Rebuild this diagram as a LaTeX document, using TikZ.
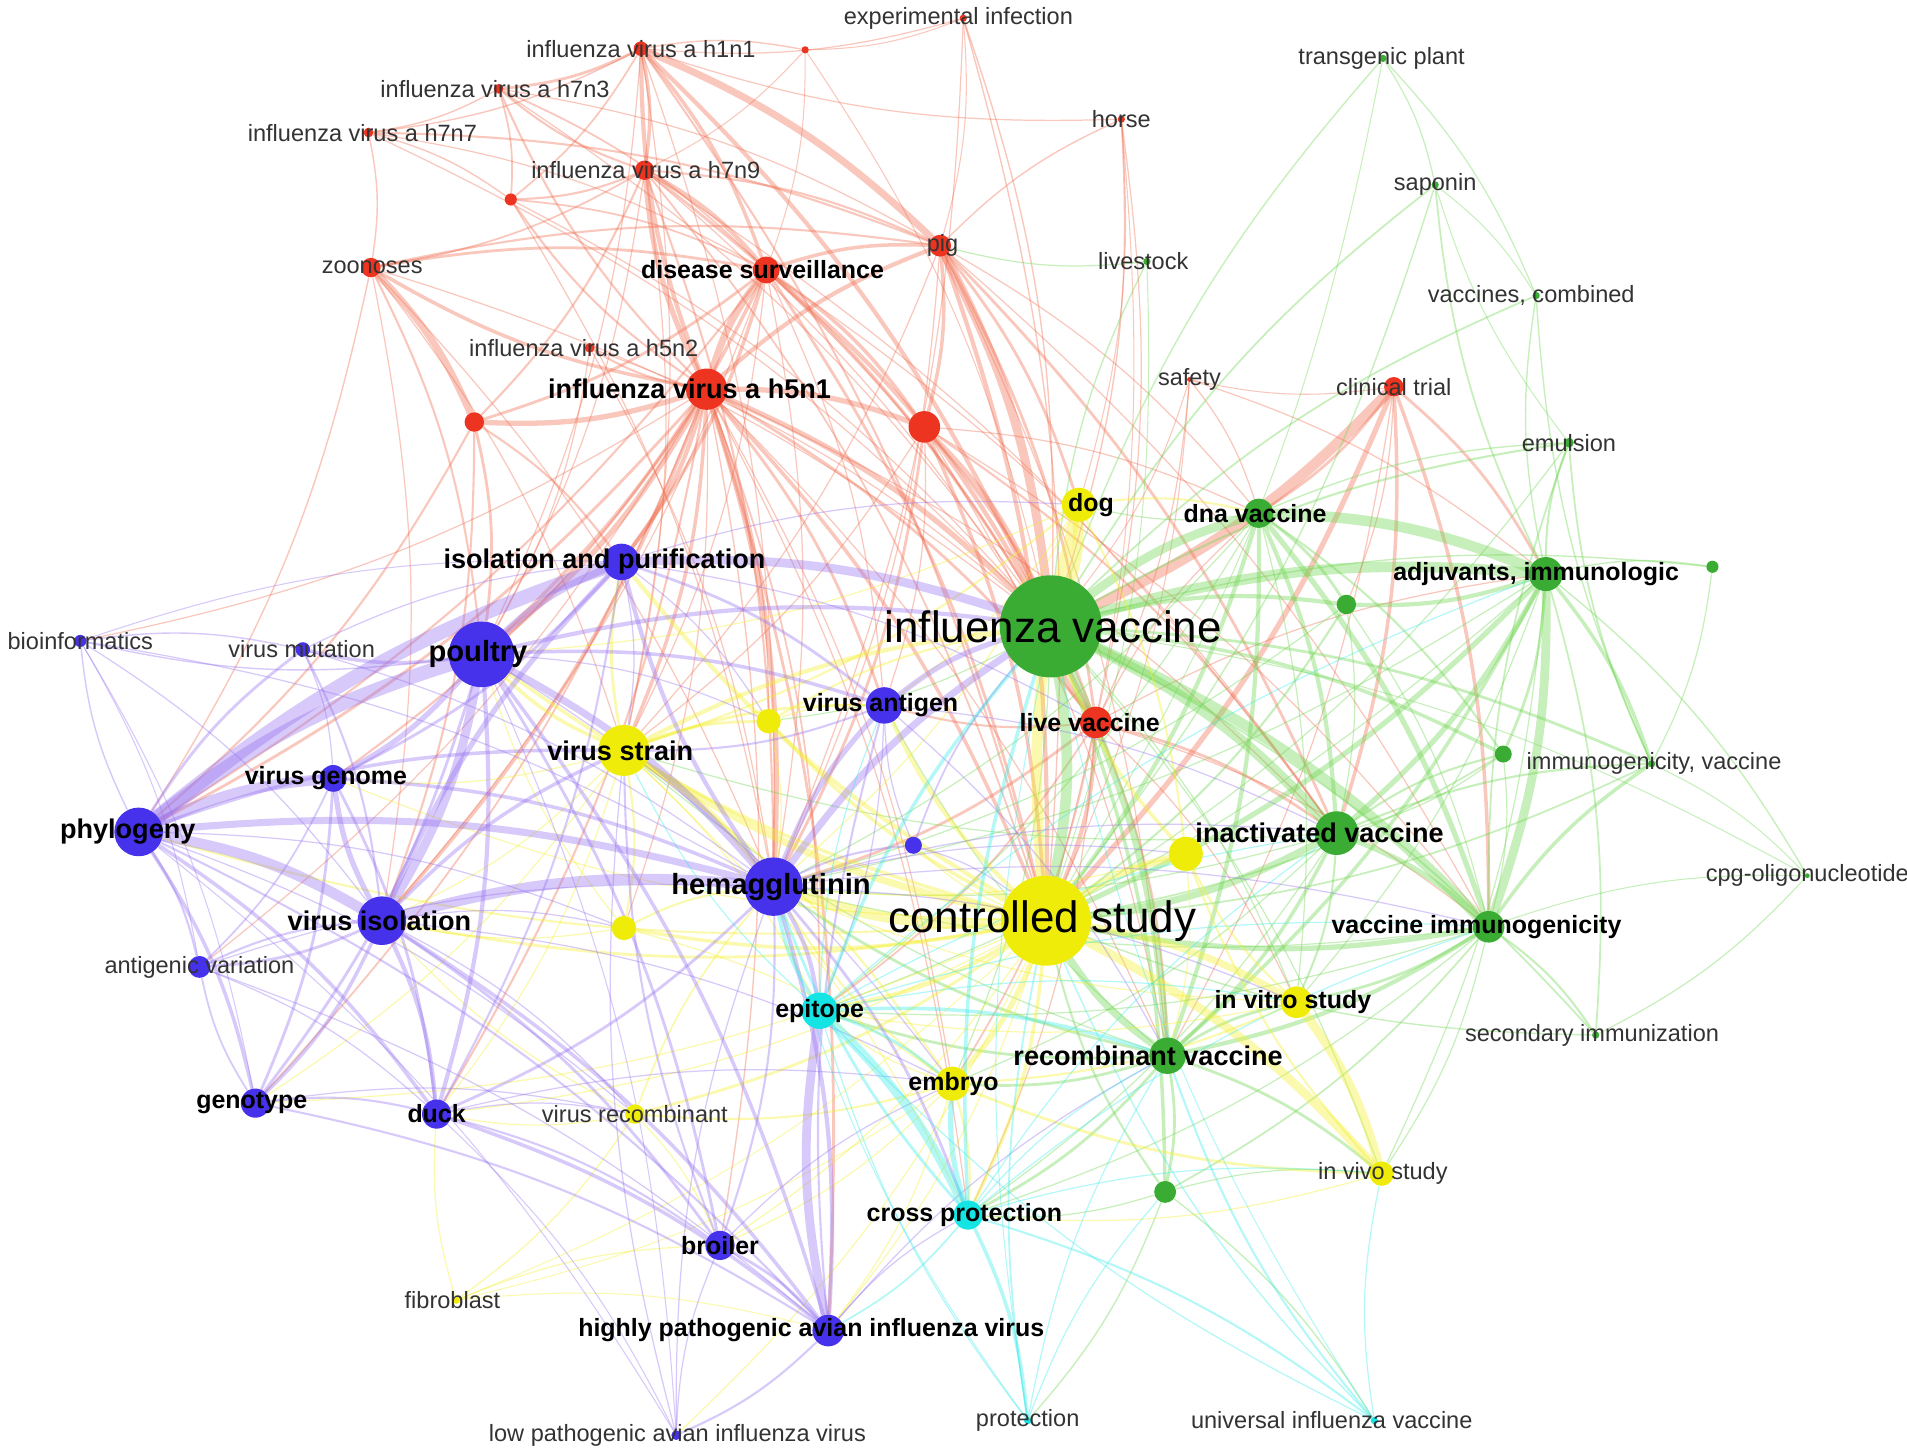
\documentclass[tikz,border=0pt]{standalone}
\usepackage{fontspec}
\setmainfont{Liberation Sans}
\usetikzlibrary{backgrounds}

% cluster colours
\definecolor{vred}{RGB}{236,52,32}
\definecolor{vgreen}{RGB}{58,172,52}
\definecolor{vblue}{RGB}{70,50,235}
\definecolor{vyellow}{RGB}{240,236,10}
\definecolor{vcyan}{RGB}{20,228,228}
% link colours
\definecolor{ered}{RGB}{240,110,80}
\definecolor{egreen}{RGB}{110,215,80}
\definecolor{eblue}{RGB}{150,115,240}
\definecolor{eyellow}{RGB}{245,240,40}
\definecolor{ecyan}{RGB}{60,235,235}

\tikzset{
    kw/.style={circle, inner sep=0pt, draw=none},
    link/.style={draw opacity=0.38, line cap=round},
    lsm/.style={font=\fontsize{6.7}{7}\selectfont, text=black!80},
    lbf/.style={font=\fontsize{7.1}{8}\selectfont\bfseries},
    lbg/.style={font=\fontsize{7.7}{9}\selectfont\bfseries},
    lhg/.style={font=\fontsize{8.3}{9}\selectfont\bfseries},
    ltop/.style={font=\fontsize{12.5}{14}\selectfont}
}

\begin{document}
\begin{tikzpicture}[x=0.012162cm, y=-0.012162cm] % one unit = one pixel of the map

    \useasboundingbox (0,0) rectangle (1568,1195);

    % Unlabelled keywords
    \foreach \n/\x/\y/\col/\rad in {
            redA/662/41/vred/3, redB/420/164/vred/5, redC/390/347/vred/8, redD/760/351/vred/13,
            grnA/1408/466/vgreen/5, grnB/1107/497/vgreen/8, grnC/1236/620/vgreen/7, grnD/958/980/vgreen/9,
            yelA/632/593/vyellow/10, yelB/975/702/vyellow/14, yelC/513/763/vyellow/10,
            bluA/751/695/vblue/7
        } {
        \node[kw, fill=\col, minimum size=\rad*0.692pt] (\n) at (\x,\y) {};
    }

    % Small keywords, plain labels
    \foreach \n/\x/\y/\rad/\col/\dx/\lab in {
            h1n1/527/40/6/vred/0/{influenza virus a h1n1},
            expinf/792/15/3/vred/-4/{experimental infection},
            h7n3/410/73/4/vred/-3/{influenza virus a h7n3},
            h7n7/303/109/4/vred/-5/{influenza virus a h7n7},
            h7n9/530/140/8/vred/1/{influenza virus a h7n9},
            horse/922/98/3/vred/0/{horse},
            zoon/305/220/8/vred/1/{zoonoses},
            pig/773/202/9/vred/2/{pig},
            h5n2/485/286/4/vred/-5/{influenza virus a h5n2},
            safety/978/312/2/vred/0/{safety},
            ctrial/1146/318/8/vred/0/{clinical trial},
            tplant/1137/48/3/vgreen/-1/{transgenic plant},
            saponin/1180/152/3/vgreen/0/{saponin},
            livestock/943/215/3/vgreen/-3/{livestock},
            vcomb/1263/243/3/vgreen/-4/{vaccines, combined},
            emuls/1290/364/4/vgreen/0/{emulsion},
            immvac/1358/628/3/vgreen/2/{immunogenicity, vaccine},
            cpg/1486/720/2/vgreen/0/{cpg-oligonucleotide},
            secimm/1312/851/3/vgreen/-3/{secondary immunization},
            vrecomb/522/916/8/vyellow/0/{virus recombinant},
            invivo/1136/965/10/vyellow/1/{in vivo study},
            fibro/375/1069/3/vyellow/-3/{fibroblast},
            bioinf/66/527/5/vblue/0/{bioinformatics},
            vmut/249/534/6/vblue/-1/{virus mutation},
            antvar/164/795/9/vblue/0/{antigenic variation},
            lpaiv/556/1180/4/vblue/1/{low pathogenic avian influenza virus},
            protect/845/1168/3/vcyan/0/{protection},
            univ/1130/1168/3/vcyan/-35/{universal influenza vaccine}
        } {
        \node[kw, fill=\col, minimum size=\rad*0.692pt,
              label={[lsm, xshift=\dx*0.346pt]center:\lab}] (\n) at (\x,\y) {};
    }

    % Medium keywords, bold labels
    \foreach \n/\x/\y/\rad/\col/\dx/\lab in {
            dsurv/630/222/11/vred/-3/{disease surveillance},
            livevac/901/594/13/vred/-5/{live vaccine},
            dnavac/1035/422/12/vgreen/-3/{dna vaccine},
            adjuv/1271/472/14/vgreen/-8/{adjuvants, immunologic},
            vacimm/1224/762/13/vgreen/-10/{vaccine immunogenicity},
            dog/887/415/14/vyellow/10/{dog},
            invitro/1066/824/13/vyellow/-3/{in vitro study},
            embryo/783/891/14/vyellow/1/{embryo},
            vantig/727/580/15/vblue/-3/{virus antigen},
            vgenome/274/640/11/vblue/-6/{virus genome},
            genotype/210/907/12/vblue/-3/{genotype},
            duck/359/916/12/vblue/0/{duck},
            broiler/592/1024/12/vblue/0/{broiler},
            hpaiv/681/1094/13/vblue/-14/{highly pathogenic avian influenza virus},
            epitope/674/831/15/vcyan/0/{epitope},
            crossp/796/999/12/vcyan/-3/{cross protection}
        } {
        \node[kw, fill=\col, minimum size=\rad*0.692pt,
              label={[lbf, xshift=\dx*0.346pt]center:\lab}] (\n) at (\x,\y) {};
    }

    % Larger keywords
    \foreach \n/\x/\y/\rad/\col/\dx/\lab in {
            h5n1/581/320/17/vred/-14/{influenza virus a h5n1},
            inactvac/1099/685/18/vgreen/-14/{inactivated vaccine},
            recvac/960/868/15/vgreen/-16/{recombinant vaccine},
            vstrain/513/617/21/vyellow/-3/{virus strain},
            isopur/511/462/15/vblue/-14/{isolation and purification},
            phylo/114/684/20/vblue/-9/{phylogeny},
            viso/314/757/20/vblue/-2/{virus isolation}
        } {
        \node[kw, fill=\col, minimum size=\rad*0.692pt,
              label={[lbg, xshift=\dx*0.346pt]center:\lab}] (\n) at (\x,\y) {};
    }
    \foreach \n/\x/\y/\rad/\col/\dx/\lab in {
            poultry/396/538/27/vblue/-3/{poultry},
            hemag/636/729/24/vblue/-2/{hemagglutinin}
        } {
        \node[kw, fill=\col, minimum size=\rad*0.692pt,
              label={[lhg, xshift=\dx*0.346pt]center:\lab}] (\n) at (\x,\y) {};
    }

    % The two hubs
    \node[kw, fill=vgreen, minimum size=42*0.692pt, label={[ltop, xshift=0.7pt]center:influenza vaccine}] (fluvac) at (864,515) {};
    \node[kw, fill=vyellow, minimum size=37*0.692pt, label={[ltop, xshift=-1pt]center:controlled study}] (ctrl) at (860,757) {};

    \begin{scope}[on background layer]
    \fill[white] (0,0) rectangle (1568,1195);

    % red links
    \foreach \src/\dst/\lw in {
            h5n1/h1n1/1.2, h5n1/h7n9/1.5, h5n1/dsurv/2, h5n1/zoon/1, h5n1/redC/1.5, h5n1/redD/1.5,
            h5n1/pig/1.2, h5n1/h5n2/0.6, h5n1/poultry/1.5, h5n1/isopur/1.2, h5n1/vstrain/1, h5n1/hemag/1.5,
            h5n1/fluvac/1.5, h5n1/ctrl/1, h5n1/livevac/0.8, h5n1/vantig/0.8, h5n1/phylo/0.8, h5n1/viso/1,
            h5n1/duck/0.6, h5n1/hpaiv/0.8, h5n1/h7n3/0.6, h5n1/redB/0.6, h5n1/genotype/0.5, h5n1/vgenome/0.6,
            h5n1/epitope/0.5, h5n1/broiler/0.4,
            h1n1/h7n9/1, h1n1/h7n3/0.8, h1n1/dsurv/1, h1n1/pig/2, h1n1/fluvac/1.2, h1n1/redB/0.5,
            h1n1/redA/0.4, h1n1/h7n7/0.4, h1n1/ctrl/0.6,
            h7n9/dsurv/1.2, h7n9/h7n3/0.6, h7n9/redB/0.6, h7n9/zoon/0.5, h7n9/pig/0.6, h7n9/redC/0.6,
            h7n9/ctrl/0.5, h7n9/fluvac/0.8, h7n9/hemag/0.6,
            h7n3/h7n7/0.4, h7n3/redB/0.5, h7n3/dsurv/0.5, h7n7/redB/0.4, h7n7/pig/0.6, h7n7/zoon/0.4,
            zoon/redC/2, zoon/dsurv/0.8, zoon/pig/0.6, zoon/phylo/0.4, zoon/poultry/0.6,
            dsurv/pig/1, dsurv/redD/1, dsurv/redC/0.8, dsurv/poultry/1, dsurv/isopur/1, dsurv/fluvac/1.2,
            dsurv/ctrl/0.8, dsurv/livevac/0.6, dsurv/phylo/0.6,
            pig/redD/1, pig/fluvac/2.5, pig/ctrl/1.2, pig/livevac/0.8, pig/dog/0.8, pig/horse/0.4, pig/inactvac/0.8,
            redD/fluvac/1.5, redD/ctrl/1, redD/livevac/0.8, redD/hemag/0.8, redD/inactvac/0.6,
            ctrial/fluvac/3, ctrial/ctrl/1.5, ctrial/dnavac/0.8, ctrial/vacimm/1, ctrial/adjuv/0.8,
            ctrial/inactvac/1, ctrial/safety/0.3,
            livevac/fluvac/1.5, livevac/ctrl/1.2, livevac/inactvac/0.8, livevac/hemag/0.8, livevac/vantig/0.6,
            livevac/recvac/0.6, livevac/epitope/0.5, livevac/embryo/0.5,
            expinf/fluvac/0.4, expinf/pig/0.3, expinf/ctrl/0.4, expinf/redA/0.3,
            horse/fluvac/0.4, horse/ctrl/0.3, horse/dog/0.3,
            redA/fluvac/0.3, redA/h7n9/0.3, redA/dsurv/0.3, safety/fluvac/0.3, safety/ctrl/0.3,
            redC/poultry/0.8, redC/phylo/0.6, redC/viso/0.6, redC/isopur/0.6, redB/dsurv/0.5,
            % faint ones
            h1n1/hemag/0.35, h1n1/vstrain/0.35, h1n1/poultry/0.35, h7n9/vstrain/0.35, h7n9/poultry/0.35,
            h7n9/livevac/0.35, h7n9/inactvac/0.35, h7n3/fluvac/0.35, h7n3/pig/0.35, h7n7/fluvac/0.35,
            h7n7/dsurv/0.35, zoon/fluvac/0.35, zoon/vstrain/0.35, zoon/viso/0.35, zoon/hemag/0.35,
            dsurv/vstrain/0.35, dsurv/hemag/0.35, dsurv/viso/0.35, dsurv/vantig/0.35, dsurv/inactvac/0.35,
            pig/hemag/0.35, pig/vstrain/0.35, pig/vacimm/0.35, pig/recvac/0.35, pig/dnavac/0.35,
            redD/vantig/0.35, redD/vstrain/0.35, redD/recvac/0.35, redD/vacimm/0.35, redD/dnavac/0.35,
            livevac/adjuv/0.35, livevac/vacimm/0.35, livevac/dnavac/0.35, livevac/invitro/0.35, livevac/crossp/0.35,
            ctrial/recvac/0.35, ctrial/grnB/0.35, h5n2/fluvac/0.35, h5n2/hemag/0.35, h5n2/poultry/0.35,
            redB/fluvac/0.35, redB/hemag/0.35, expinf/hemag/0.35, expinf/h1n1/0.35, horse/h1n1/0.35,
            horse/livevac/0.35, safety/livevac/0.35, safety/adjuv/0.35, safety/dnavac/0.35, h5n1/inactvac/0.35,
            h5n1/recvac/0.35, h5n1/embryo/0.35, h5n1/crossp/0.35, h5n1/yelA/0.35, h5n1/yelC/0.35,
            h5n1/antvar/0.35, h5n1/bioinf/0.35
        } {
        \draw[link, ered, line width=\lw pt] (\src) to[bend left=10] (\dst);
    }

    % green links
    \foreach \src/\dst/\lw in {
            fluvac/dnavac/2.5, fluvac/adjuv/3, fluvac/grnB/1.2, fluvac/inactvac/3, fluvac/vacimm/3,
            fluvac/recvac/2, fluvac/ctrl/3, fluvac/grnC/1, fluvac/immvac/0.8, fluvac/emuls/0.6,
            fluvac/vcomb/0.5, fluvac/saponin/0.5, fluvac/tplant/0.4, fluvac/livestock/0.4, fluvac/grnD/1,
            fluvac/secimm/0.5, fluvac/cpg/0.3, fluvac/grnA/0.4,
            dnavac/adjuv/3, dnavac/vacimm/1.5, dnavac/inactvac/1.2, dnavac/recvac/1.2, dnavac/ctrl/1.2,
            dnavac/grnB/0.8, dnavac/grnC/0.6, dnavac/emuls/0.4,
            adjuv/vacimm/2.5, adjuv/inactvac/1.5, adjuv/immvac/1, adjuv/emuls/0.6, adjuv/saponin/0.5,
            adjuv/grnC/0.8, adjuv/ctrl/1.5, adjuv/grnB/1.2, adjuv/cpg/0.4, adjuv/secimm/0.5, adjuv/grnA/0.4,
            adjuv/vcomb/0.4, adjuv/recvac/1,
            inactvac/vacimm/1.5, inactvac/ctrl/2, inactvac/recvac/1, inactvac/grnC/0.6, inactvac/immvac/0.6,
            inactvac/invitro/0.6,
            vacimm/recvac/1.2, vacimm/ctrl/1.5, vacimm/immvac/1, vacimm/secimm/0.6, vacimm/invitro/0.8,
            vacimm/grnD/0.5, vacimm/emuls/0.5, vacimm/cpg/0.3,
            immvac/vcomb/0.4, immvac/emuls/0.5, immvac/ctrl/0.5, immvac/cpg/0.3,
            recvac/ctrl/2, recvac/grnD/0.8, recvac/invivo/0.8, recvac/embryo/0.8, recvac/epitope/0.8,
            recvac/crossp/0.8, recvac/invitro/0.8, recvac/hemag/0.8,
            grnD/ctrl/0.6, grnD/protect/0.4, grnD/univ/0.4, grnB/ctrl/0.6, grnC/ctrl/0.5,
            saponin/ctrl/0.4, saponin/vcomb/0.3, tplant/ctrl/0.3, livestock/ctrl/0.3, secimm/ctrl/0.4,
            emuls/saponin/0.3,
            % faint ones
            fluvac/embryo/0.35, fluvac/invitro/0.35, fluvac/invivo/0.35, fluvac/yelA/0.35,
            dnavac/hemag/0.35, dnavac/epitope/0.35, dnavac/invitro/0.35, dnavac/dog/0.35,
            adjuv/invitro/0.35, adjuv/invivo/0.35, adjuv/hemag/0.35, adjuv/epitope/0.35,
            inactvac/hemag/0.35, inactvac/vstrain/0.35, inactvac/embryo/0.35, inactvac/crossp/0.35,
            vacimm/hemag/0.35, vacimm/epitope/0.35, vacimm/crossp/0.35, vacimm/invivo/0.35,
            recvac/vstrain/0.35, recvac/vantig/0.35, grnB/hemag/0.35, grnB/inactvac/0.35, grnB/vacimm/0.35,
            grnC/vacimm/0.35, grnC/inactvac/0.35, grnA/immvac/0.35, grnD/crossp/0.35, grnD/invivo/0.35,
            emuls/ctrl/0.35, livestock/pig/0.35, tplant/vcomb/0.35, tplant/saponin/0.35, cpg/secimm/0.35
        } {
        \draw[link, egreen, line width=\lw pt] (\src) to[bend left=10] (\dst);
    }

    % yellow links
    \foreach \src/\dst/\lw in {
            ctrl/dog/3, ctrl/vstrain/2, ctrl/hemag/3, ctrl/yelB/2, ctrl/invitro/2, ctrl/invivo/2.5,
            ctrl/embryo/1.5, ctrl/yelA/1, ctrl/yelC/1, ctrl/vrecomb/0.8, ctrl/epitope/1.2, ctrl/crossp/1,
            ctrl/vantig/1.2, ctrl/poultry/1, ctrl/isopur/1.2, ctrl/phylo/0.6, ctrl/viso/0.8, ctrl/fibro/0.3,
            dog/fluvac/3, dog/vstrain/0.6, dog/yelB/0.6, dog/dnavac/0.6,
            vstrain/hemag/1.5, vstrain/yelA/0.8, vstrain/poultry/1, vstrain/isopur/0.8, vstrain/yelC/0.6,
            vstrain/embryo/0.6, vstrain/fluvac/1.2, vstrain/vantig/0.8,
            invitro/invivo/2.5, invitro/embryo/0.6, invitro/yelB/0.6,
            embryo/vrecomb/0.6, embryo/crossp/0.6, embryo/fibro/0.3, embryo/hemag/0.6,
            vrecomb/fibro/0.4, vrecomb/hemag/0.5, invivo/embryo/0.8, invivo/yelB/0.6, yelB/fluvac/1,
            yelA/fluvac/0.6, yelC/hemag/0.6, fibro/hpaiv/0.3,
            % faint ones
            ctrl/genotype/0.35, ctrl/duck/0.35, ctrl/broiler/0.35, ctrl/hpaiv/0.35, ctrl/lpaiv/0.35,
            ctrl/vgenome/0.35, ctrl/bluA/0.35, vstrain/viso/0.35, vstrain/duck/0.35, vstrain/genotype/0.35,
            vstrain/vgenome/0.35, vstrain/epitope/0.35, vstrain/crossp/0.35, yelA/hemag/0.35, yelA/vantig/0.35,
            yelC/viso/0.35, yelC/poultry/0.35, yelC/embryo/0.35, embryo/epitope/0.35, embryo/broiler/0.35,
            embryo/hpaiv/0.35, invitro/epitope/0.35, invitro/hemag/0.35, invivo/crossp/0.35, vrecomb/viso/0.35,
            vrecomb/duck/0.35, vrecomb/broiler/0.35, dog/hemag/0.35, dog/vantig/0.35, dog/poultry/0.35,
            fibro/broiler/0.35, fibro/duck/0.35, yelB/recvac/0.35, yelB/hemag/0.35
        } {
        \draw[link, eyellow, line width=\lw pt] (\src) to[bend left=10] (\dst);
    }

    % blue links
    \foreach \src/\dst/\lw in {
            phylo/poultry/4, phylo/viso/3, phylo/vgenome/3, phylo/isopur/4, phylo/hemag/2, phylo/genotype/1,
            phylo/duck/1, phylo/antvar/0.6, phylo/bioinf/0.4, phylo/vmut/0.8, phylo/vstrain/1, phylo/hpaiv/0.6,
            phylo/lpaiv/0.3,
            poultry/viso/2.5, poultry/vgenome/1.5, poultry/isopur/2, poultry/duck/1.2, poultry/hemag/2,
            poultry/vmut/1, poultry/vantig/1, poultry/genotype/0.8, poultry/bioinf/0.4, poultry/hpaiv/1,
            poultry/broiler/0.8, poultry/fluvac/1.2, poultry/lpaiv/0.3,
            viso/vgenome/1.5, viso/hemag/3, viso/duck/1.2, viso/genotype/1, viso/antvar/0.8, viso/isopur/1.5,
            viso/hpaiv/1, viso/broiler/0.8, viso/vstrain/1,
            hemag/vantig/1.5, hemag/epitope/1.2, hemag/hpaiv/1.2, hemag/duck/0.8, hemag/isopur/1.2,
            hemag/bluA/0.6, hemag/fluvac/2, hemag/broiler/0.6, hemag/crossp/0.8,
            isopur/fluvac/2.5, isopur/vantig/0.8, isopur/vgenome/0.8, isopur/duck/0.6,
            vgenome/genotype/0.8, vgenome/duck/0.8, vgenome/hemag/1, vgenome/antvar/0.5,
            genotype/duck/0.6, genotype/antvar/0.5, genotype/hpaiv/0.6,
            duck/hpaiv/1, duck/broiler/0.6, duck/lpaiv/0.3, broiler/hpaiv/0.8, broiler/vstrain/0.6,
            hpaiv/lpaiv/0.6, hpaiv/epitope/2.5, hpaiv/vantig/0.6,
            bioinf/vmut/0.4, bioinf/antvar/0.3, bioinf/genotype/0.3, bioinf/isopur/0.3,
            vantig/fluvac/1.5, vantig/vstrain/0.6, bluA/fluvac/0.5, vmut/viso/0.6, antvar/viso/0.6,
            % faint ones
            hemag/yelB/0.35, hemag/invitro/0.35, hemag/inactvac/0.35, hemag/vacimm/0.35,
            poultry/embryo/0.35, poultry/yelA/0.35, isopur/yelA/0.35, isopur/vstrain/0.35, isopur/livevac/0.35,
            isopur/dog/0.35, viso/embryo/0.35, viso/yelC/0.35, viso/vrecomb/0.35, phylo/yelC/0.35,
            phylo/vrecomb/0.35, duck/vrecomb/0.35, duck/embryo/0.35, genotype/vrecomb/0.35, broiler/embryo/0.35,
            hpaiv/crossp/0.35, hpaiv/recvac/0.35, vantig/epitope/0.35, vantig/inactvac/0.35, vantig/recvac/0.35,
            vmut/hemag/0.35, vmut/vgenome/0.35, vmut/isopur/0.35, bioinf/hemag/0.35, bioinf/viso/0.35,
            antvar/hemag/0.35, antvar/duck/0.35, antvar/hpaiv/0.35, lpaiv/hemag/0.35, lpaiv/broiler/0.35,
            lpaiv/vstrain/0.35, bluA/ctrl/0.35, bluA/vantig/0.35
        } {
        \draw[link, eblue, line width=\lw pt] (\src) to[bend left=10] (\dst);
    }

    % cyan links
    \foreach \src/\dst/\lw in {
            epitope/crossp/2.5, epitope/hemag/1, epitope/fluvac/1, epitope/recvac/1, epitope/embryo/0.8,
            crossp/protect/1, crossp/univ/0.6, crossp/fluvac/1, crossp/hemag/0.8, crossp/embryo/1.5,
            crossp/hpaiv/0.5, protect/fluvac/0.3, protect/hemag/0.3, protect/ctrl/0.5,
            univ/fluvac/0.3, univ/recvac/0.6, univ/ctrl/0.4,
            % faint ones
            epitope/vantig/0.35, epitope/vstrain/0.35, epitope/inactvac/0.35, epitope/vacimm/0.35,
            epitope/adjuv/0.35, epitope/invitro/0.35, crossp/inactvac/0.35, crossp/vacimm/0.35,
            crossp/recvac/0.35, crossp/invivo/0.35, protect/recvac/0.35, protect/grnD/0.35,
            protect/epitope/0.35, univ/invivo/0.35, univ/epitope/0.35
        } {
        \draw[link, ecyan, line width=\lw pt] (\src) to[bend left=10] (\dst);
    }
    \end{scope}

\end{tikzpicture}
\end{document}
